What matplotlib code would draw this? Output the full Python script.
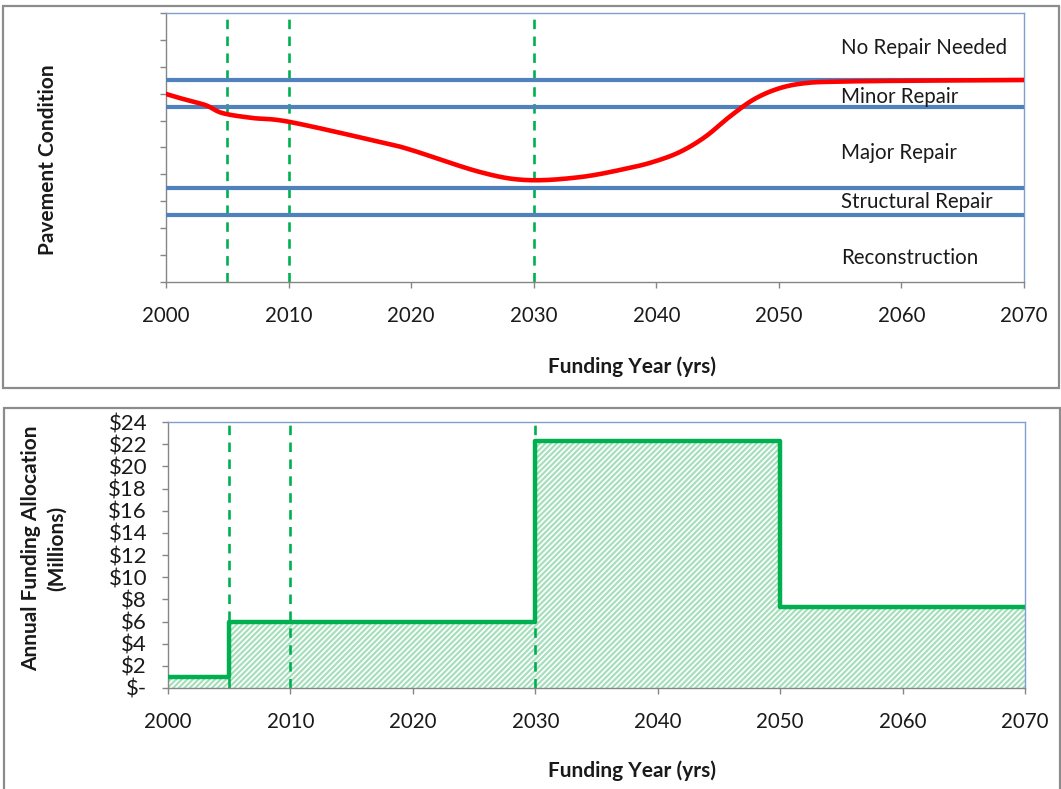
import numpy as np
import matplotlib.pyplot as plt
from matplotlib.patches import Rectangle

plt.rcParams['font.family'] = ['Lato', 'DejaVu Sans']
plt.rcParams['hatch.linewidth'] = 1.6

# pavement condition over time (0-10 condition scale)
cond_years = [2000, 2001.1, 2003.2, 2004.6, 2007, 2010.1, 2017.5, 2020, 2025.6,
              2029.4, 2033.8, 2037.8, 2040, 2042, 2044, 2046, 2048, 2050.1,
              2052.3, 2055, 2060, 2070]
cond_values = [6.99, 6.84, 6.58, 6.28, 6.10, 5.95, 5.20, 4.91, 4.09,
               3.79, 3.90, 4.24, 4.50, 4.85, 5.40, 6.15, 6.80, 7.21,
               7.40, 7.45, 7.48, 7.51]

# thresholds between repair categories
thresholds = [7.5, 6.5, 3.5, 2.5]
categories = ['No Repair Needed', 'Minor Repair', 'Major Repair',
              'Structural Repair', 'Reconstruction']
category_y = [8.70, 6.88, 4.80, 2.97, 0.89]

# funding steps ($ millions per year)
fund_edges = [2000, 2005, 2030, 2050, 2070]
fund_values = [1.0, 6.0, 22.3, 7.3]

# policy change years
marker_years = [2005, 2010, 2030]

xticks = list(range(2000, 2071, 10))
money_ticks = list(range(0, 25, 2))
money_labels = ['$-'] + ['$%d' % v for v in money_ticks[1:]]

GRAY = '#868686'
BLUE_EDGE = '#7fa0cf'
LINE_BLUE = '#4f81bd'
GREEN = '#00b050'
TXT = '#1a1a1a'
FS = 14.8


def smooth(xs, ys, n=20):
    # Catmull-Rom pass through the read points
    xs = np.asarray(xs, float)
    ys = np.asarray(ys, float)
    px = np.concatenate([[2 * xs[0] - xs[1]], xs, [2 * xs[-1] - xs[-2]]])
    py = np.concatenate([[2 * ys[0] - ys[1]], ys, [2 * ys[-1] - ys[-2]]])
    out_x, out_y = [], []
    t = np.linspace(0, 1, n, endpoint=False)
    for i in range(1, len(px) - 2):
        for arr, out in ((px, out_x), (py, out_y)):
            p0, p1, p2, p3 = arr[i - 1], arr[i], arr[i + 1], arr[i + 2]
            out.extend(0.5 * ((2 * p1) + (-p0 + p2) * t
                              + (2 * p0 - 5 * p1 + 4 * p2 - p3) * t ** 2
                              + (-p0 + 3 * p1 - 3 * p2 + p3) * t ** 3))
    out_x.append(xs[-1])
    out_y.append(ys[-1])
    return np.array(out_x), np.array(out_y)


def style_axes(ax):
    ax.spines['left'].set_color(GRAY)
    ax.spines['bottom'].set_color(GRAY)
    ax.spines['top'].set_color(BLUE_EDGE)
    ax.spines['right'].set_color(BLUE_EDGE)
    for s in ax.spines.values():
        s.set_linewidth(1.0)
    ax.tick_params(axis='both', direction='out', color=GRAY, length=4,
                   width=1.0, labelsize=FS, labelcolor=TXT)
    ax.tick_params(axis='x', pad=13)
    ax.set_xlim(2000, 2070)
    ax.set_xticks(xticks)
    for yr in marker_years:
        ax.axvline(yr, color=GREEN, lw=1.9, ls=(0, (3.6, 2.8)), zorder=2)


W, H = 1061, 789
fig = plt.figure(figsize=(W / 100, H / 100), dpi=100)

# panel frames
fig.patches.append(Rectangle((3 / W, 1 - 388 / H), 1056 / W, 382 / H,
                             transform=fig.transFigure, fill=False,
                             edgecolor='#8c8c8c', lw=1.6))
fig.patches.append(Rectangle((4 / W, -0.02), 1056 / W, 1 - 408 / H + 0.02,
                             transform=fig.transFigure, fill=False,
                             edgecolor='#8c8c8c', lw=1.6))

# --- pavement condition panel ---
ax1 = fig.add_axes([166 / W, 1 - 282 / H, 858 / W, 269 / H])
style_axes(ax1)
ax1.set_ylim(0, 10)
ax1.set_yticks(range(0, 11))
ax1.set_yticklabels([])
for th in thresholds:
    ax1.axhline(th, color=LINE_BLUE, lw=3.0, zorder=3)
sx, sy = smooth(cond_years, cond_values)
ax1.plot(sx, sy, color='#ff0000', lw=3.3, zorder=4, solid_capstyle='round')
for name, yv in zip(categories, category_y):
    ax1.text(2055.1, yv, name, fontsize=FS, color=TXT, ha='left', va='center')

fig.text(48 / W, 1 - 160 / H, 'Pavement Condition', rotation=90,
         fontsize=15, fontweight='bold', color=TXT, ha='center', va='center')
fig.text(632 / W, 1 - 367 / H, 'Funding Year (yrs)', fontsize=15,
         fontweight='bold', color=TXT, ha='center', va='center')

# --- funding panel ---
ax2 = fig.add_axes([168 / W, 1 - 688 / H, 857 / W, 266 / H])
style_axes(ax2)
ax2.set_ylim(0, 24)
ax2.set_yticks(money_ticks)
ax2.set_yticklabels(money_labels)
ax2.tick_params(axis='y', pad=11, labelsize=16)
step_x = fund_edges
step_y = fund_values + [fund_values[-1]]
ax2.fill_between(step_x, 0, step_y, step='post', facecolor='none',
                 edgecolor='#a6dfbb', hatch='//////', linewidth=0, zorder=1)
ax2.step(step_x, step_y, where='post', color=GREEN, lw=3.2, zorder=4)

fig.text(44 / W, 1 - 548 / H, 'Annual Funding Allocation\n(Millions)',
         rotation=90, fontsize=15, fontweight='bold', color=TXT,
         ha='center', va='center', linespacing=1.35)
fig.text(632 / W, 1 - 771 / H, 'Funding Year (yrs)', fontsize=15,
         fontweight='bold', color=TXT, ha='center', va='center')

fig.savefig('out.png', dpi=100)
